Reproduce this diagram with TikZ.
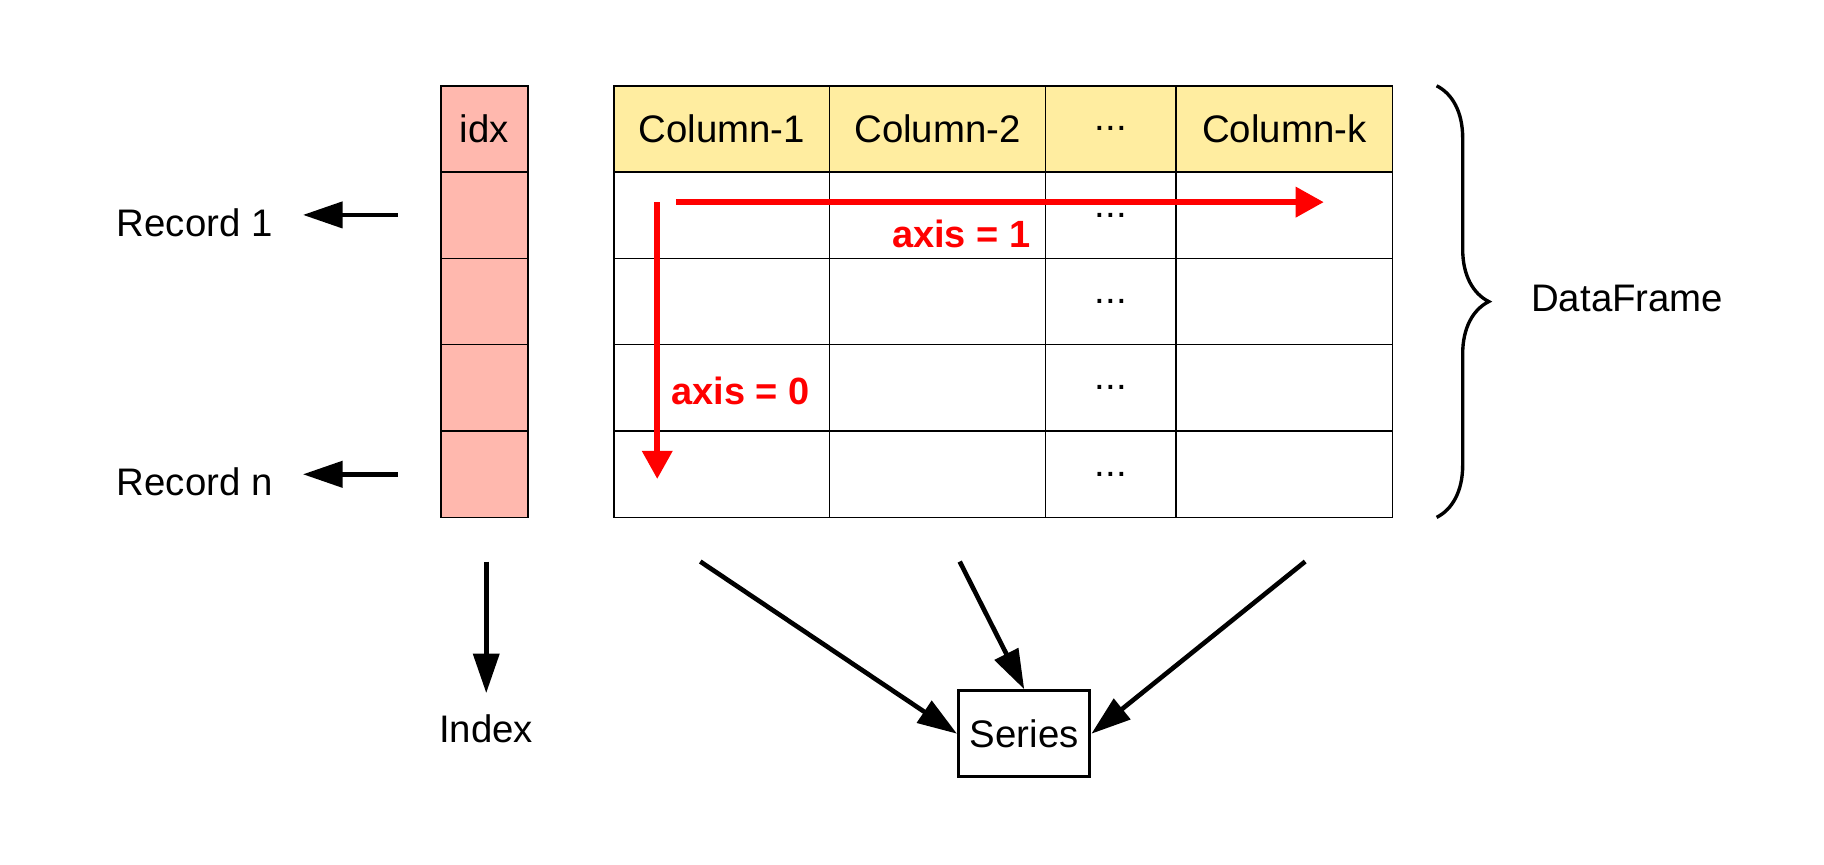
\documentclass[tikz,border=0pt]{standalone}
\usepackage{fontspec}
\setmainfont{Liberation Sans}
\usepackage{xcolor}
\usepackage{tikz}
\usetikzlibrary{arrows.meta,decorations.pathreplacing}
\definecolor{idxpink}{HTML}{FFB8AE}
\definecolor{headyellow}{HTML}{FFEDA0}
\tikzset{txt/.style={font=\fontsize{18.2}{22}\selectfont}}
\tikzset{cell/.style={rectangle,draw,line width=0.7pt,minimum height=1.4385cm,inner sep=0pt,outer sep=0pt,txt}}
\tikzset{idxcell/.style={cell,fill=idxpink,minimum width=1.454cm}}
\tikzset{head/.style={cell,fill=headyellow}}
\tikzset{arr/.style={-{Triangle[length=0.66cm,width=0.43cm]},line width=2.2pt}}
\tikzset{redarr/.style={-{Triangle[length=0.47cm,width=0.49cm]},line width=2.8pt,red}}
\tikzset{axlab/.style={font=\fontsize{18}{22}\selectfont\bfseries,text=red,inner sep=0pt}}

\begin{document}
\begin{tikzpicture}
    \useasboundingbox (0,0) rectangle (30.4,14.4);

    \node[idxcell] (i0) at (8.075,12.251) {idx};
    \node[idxcell] (i1) at (8.075,10.812) {};
    \node[idxcell] (i2) at (8.075,9.374) {};
    \node[idxcell] (i3) at (8.075,7.935) {};
    \node[idxcell] (i4) at (8.075,6.497) {};

    \node[head,minimum width=3.587cm] (h1) at (12.030,12.251) {Column-1};
    \node[head,minimum width=3.606cm] (h2) at (15.626,12.251) {Column-2};
    \node[head,minimum width=2.172cm] (h3) at (18.515,12.251) {...};
    \node[head,minimum width=3.606cm] (h4) at (21.404,12.251) {Column-k};

    \node[cell,minimum width=3.587cm] (a1) at (12.030,10.812) {};
    \node[cell,minimum width=3.606cm] (b1) at (15.626,10.812) {};
    \node[cell,minimum width=2.172cm] (c1) at (18.515,10.812) {...};
    \node[cell,minimum width=3.606cm] (d1) at (21.404,10.812) {};
    \node[cell,minimum width=3.587cm] (a2) at (12.030,9.374) {};
    \node[cell,minimum width=3.606cm] (b2) at (15.626,9.374) {};
    \node[cell,minimum width=2.172cm] (c2) at (18.515,9.374) {...};
    \node[cell,minimum width=3.606cm] (d2) at (21.404,9.374) {};
    \node[cell,minimum width=3.587cm] (a3) at (12.030,7.935) {};
    \node[cell,minimum width=3.606cm] (b3) at (15.626,7.935) {};
    \node[cell,minimum width=2.172cm] (c3) at (18.515,7.935) {...};
    \node[cell,minimum width=3.606cm] (d3) at (21.404,7.935) {};
    \node[cell,minimum width=3.587cm] (a4) at (12.030,6.497) {};
    \node[cell,minimum width=3.606cm] (b4) at (15.626,6.497) {};
    \node[cell,minimum width=2.172cm] (c4) at (18.515,6.497) {...};
    \node[cell,minimum width=3.606cm] (d4) at (21.404,6.497) {};

    \node[txt,anchor=west,inner sep=0pt] (rec1) at (1.939,10.682) {Record 1};
    \node[txt,anchor=west,inner sep=0pt] (recn) at (1.939,6.378) {Record n};
    \coordinate (r1s) at (6.630,10.818);
    \coordinate (rns) at (6.630,6.495);
    \draw [arr,shorten >=0.5cm] (r1s) -- (r1s -| rec1.east);
    \draw [arr,shorten >=0.5cm] (rns) -- (rns -| recn.east);

    \node[axlab,anchor=east] (ax1) at (17.18,10.508) {axis = 1};
    \node[axlab,anchor=west] (ax0) at (11.186,7.891) {axis = 0};
    \coordinate (hs) at (11.264,11.031);
    \coordinate (he) at (22.063,11.031);
    \coordinate (vs) at (10.954,11.031);
    \coordinate (ve) at (10.954,6.417);
    \draw [redarr] (hs) -- (he);
    \draw [redarr] (vs) -- (ve);

    \draw [line width=1.6pt,decorate,decoration={brace,amplitude=0.87cm}] (23.943,12.97) -- (23.943,5.777);
    \node[txt,anchor=west,inner sep=0pt] (df) at (25.514,9.422) {DataFrame};

    \node[txt] (index) at (8.104,2.249) {Index};
    \coordinate (is) at (8.104,5.041);
    \draw [arr,shorten >=0.24cm] (is) -- (index);

    \node[txt,draw,line width=1.4pt,minimum width=2.19cm,minimum height=1.435cm] (series) at (17.07,2.171) {Series};
    \coordinate (s1) at (11.671,5.041);
    \coordinate (s2) at (15.995,5.041);
    \coordinate (s3) at (21.753,5.041);
    \draw [arr] (s1) -- (series.west);
    \draw [arr] (s2) -- (series.north);
    \draw [arr] (s3) -- (series.east);
\end{tikzpicture}
\end{document}
